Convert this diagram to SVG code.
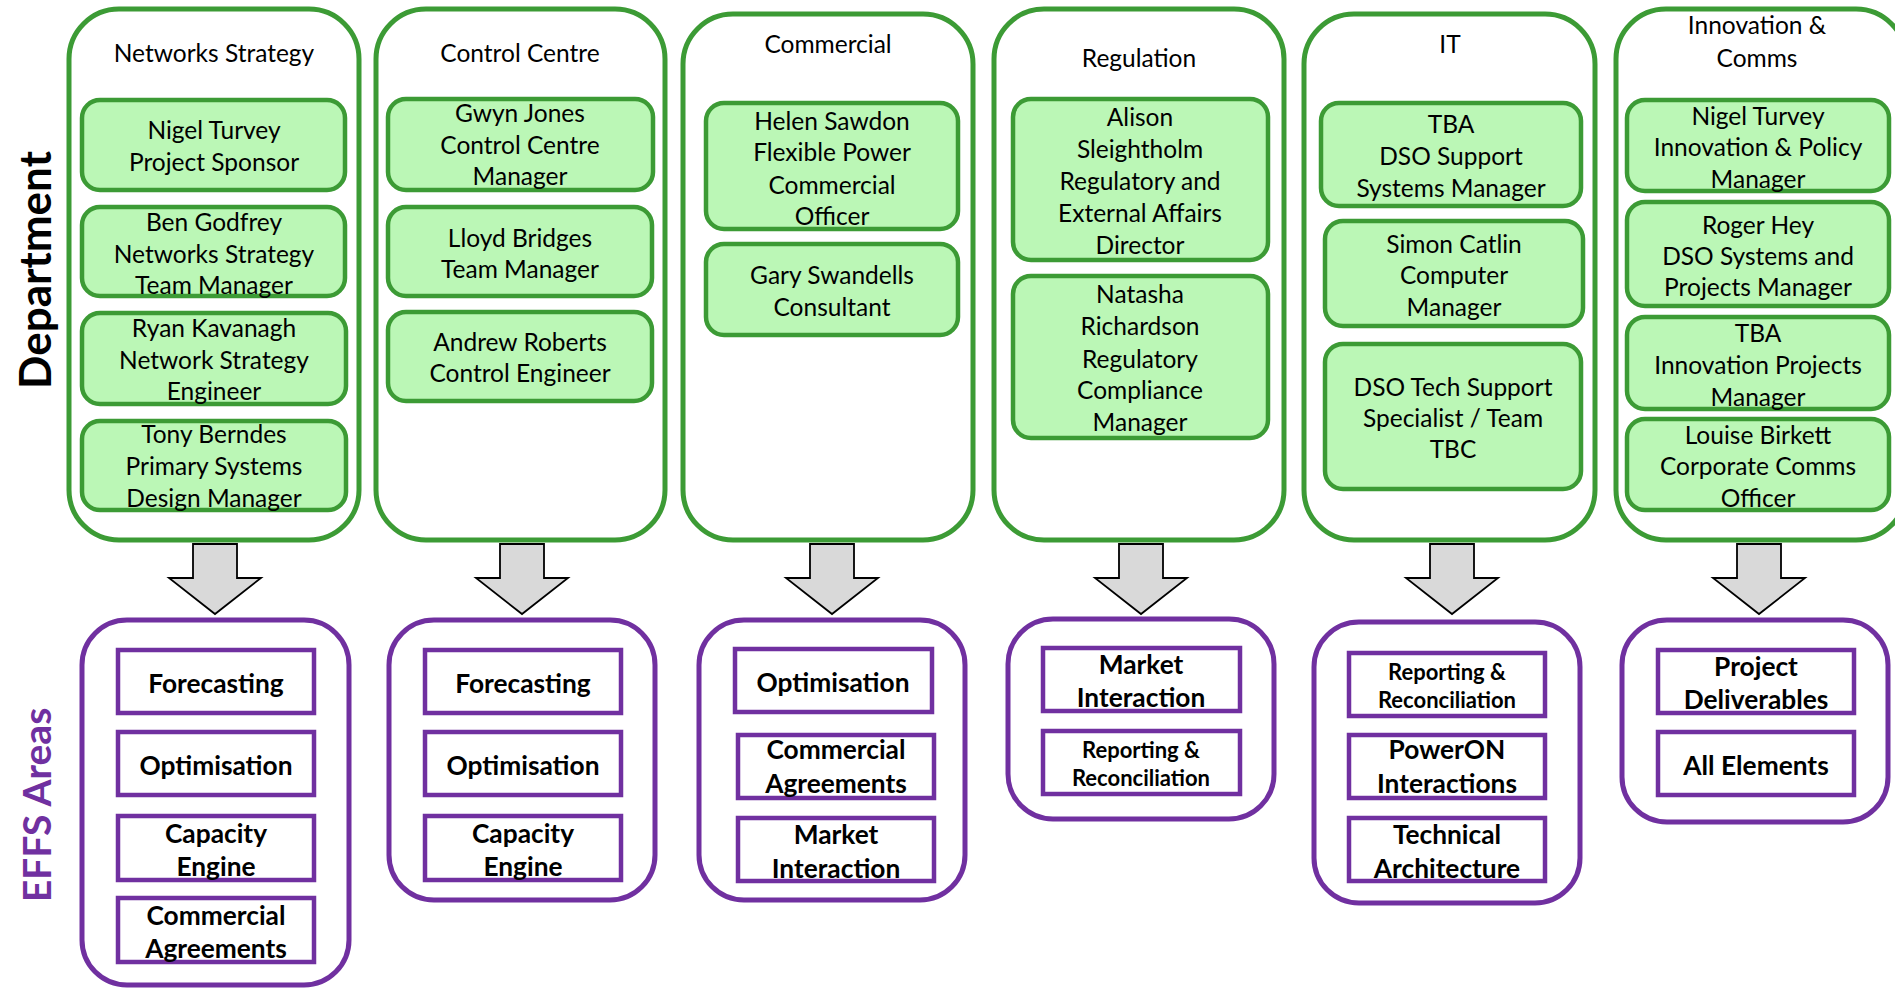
<svg xmlns="http://www.w3.org/2000/svg" width="1895" height="989" viewBox="0 0 1895 989">
<style>
.dept{fill:#fff;stroke:#3C9B35;stroke-width:5}
.person{fill:#BBF7B6;stroke:#3C9B35;stroke-width:4.5}
.area{fill:#fff;stroke:#7030A0;stroke-width:5}
.item{fill:#fff;stroke:#7030A0;stroke-width:4.5}
.arrow{fill:#D9D9D9;stroke:#000;stroke-width:1.8;stroke-linejoin:miter}
text{font-family:Lato,"Open Sans","Liberation Sans",sans-serif;text-anchor:middle;dominant-baseline:central;fill:#000}
.t{font-size:24.5px}
.b{font-size:26.3px;font-weight:bold}
.s{font-size:22px;font-weight:bold}
.side{font-size:44px;font-weight:bold}
</style>
<rect width="1895" height="989" fill="#fff"/>

<g id="label-department"><text class="side" transform="translate(34,270) rotate(-90)">Department</text></g>
<g id="label-effs"><text class="side" style="fill:#7030A0;font-size:39px" transform="translate(36,805) rotate(-90)">EFFS Areas</text></g>

<!-- Networks Strategy -->
<g id="dept-networks-strategy">
<rect class="dept" x="69" y="9" width="290" height="531" rx="50"/>
<text class="t" x="214" y="52">Networks Strategy</text>
<g id="p-nigel-turvey-ns"><rect class="person" x="82" y="100" width="263" height="90" rx="18"/>
<text class="t" x="214" y="129">Nigel Turvey</text><text class="t" x="214" y="161">Project Sponsor</text></g>
<g id="p-ben-godfrey"><rect class="person" x="82" y="207" width="263" height="89" rx="18"/>
<text class="t" x="214" y="221">Ben Godfrey</text><text class="t" x="214" y="253">Networks Strategy</text><text class="t" x="214" y="284">Team Manager</text></g>
<g id="p-ryan-kavanagh"><rect class="person" x="82" y="313" width="264" height="91" rx="18"/>
<text class="t" x="214" y="327">Ryan Kavanagh</text><text class="t" x="214" y="359">Network Strategy</text><text class="t" x="214" y="390">Engineer</text></g>
<g id="p-tony-berndes"><rect class="person" x="82" y="421" width="264" height="89" rx="18"/>
<text class="t" x="214" y="433">Tony Berndes</text><text class="t" x="214" y="465">Primary Systems</text><text class="t" x="214" y="497">Design Manager</text></g>
</g>

<!-- Control Centre -->
<g id="dept-control-centre">
<rect class="dept" x="376" y="9" width="289" height="531" rx="50"/>
<text class="t" x="520" y="52">Control Centre</text>
<g id="p-gwyn-jones"><rect class="person" x="388" y="99" width="265" height="91" rx="18"/>
<text class="t" x="520" y="112">Gwyn Jones</text><text class="t" x="520" y="144">Control Centre</text><text class="t" x="520" y="175">Manager</text></g>
<g id="p-lloyd-bridges"><rect class="person" x="388" y="207" width="264" height="89" rx="18"/>
<text class="t" x="520" y="237">Lloyd Bridges</text><text class="t" x="520" y="268">Team Manager</text></g>
<g id="p-andrew-roberts"><rect class="person" x="388" y="312" width="264" height="89" rx="18"/>
<text class="t" x="520" y="341">Andrew Roberts</text><text class="t" x="520" y="372">Control Engineer</text></g>
</g>

<!-- Commercial -->
<g id="dept-commercial">
<rect class="dept" x="683" y="14" width="290" height="526" rx="50"/>
<text class="t" x="828" y="43">Commercial</text>
<g id="p-helen-sawdon"><rect class="person" x="706" y="103" width="252" height="126" rx="18"/>
<text class="t" x="832" y="120">Helen Sawdon</text><text class="t" x="832" y="151">Flexible Power</text><text class="t" x="832" y="184">Commercial</text><text class="t" x="832" y="215">Officer</text></g>
<g id="p-gary-swandells"><rect class="person" x="706" y="244" width="252" height="91" rx="18"/>
<text class="t" x="832" y="274">Gary Swandells</text><text class="t" x="832" y="306">Consultant</text></g>
</g>

<!-- Regulation -->
<g id="dept-regulation">
<rect class="dept" x="994" y="9" width="290" height="531" rx="50"/>
<text class="t" x="1139" y="57">Regulation</text>
<g id="p-alison-sleightholm"><rect class="person" x="1013" y="99" width="255" height="161" rx="18"/>
<text class="t" x="1140" y="116">Alison</text><text class="t" x="1140" y="148">Sleightholm</text><text class="t" x="1140" y="180">Regulatory and</text><text class="t" x="1140" y="212">External Affairs</text><text class="t" x="1140" y="244">Director</text></g>
<g id="p-natasha-richardson"><rect class="person" x="1013" y="276" width="255" height="162" rx="18"/>
<text class="t" x="1140" y="293">Natasha</text><text class="t" x="1140" y="325">Richardson</text><text class="t" x="1140" y="358">Regulatory</text><text class="t" x="1140" y="389">Compliance</text><text class="t" x="1140" y="421">Manager</text></g>
</g>

<!-- IT -->
<g id="dept-it">
<rect class="dept" x="1304" y="14" width="291" height="526" rx="50"/>
<text class="t" x="1450" y="43">IT</text>
<g id="p-tba-dso-support"><rect class="person" x="1321" y="103" width="260" height="103" rx="18"/>
<text class="t" x="1451" y="123">TBA</text><text class="t" x="1451" y="155">DSO Support</text><text class="t" x="1451" y="187">Systems Manager</text></g>
<g id="p-simon-catlin"><rect class="person" x="1325" y="221" width="258" height="105" rx="18"/>
<text class="t" x="1454" y="243">Simon Catlin</text><text class="t" x="1454" y="274">Computer</text><text class="t" x="1454" y="306">Manager</text></g>
<g id="p-dso-tech-support"><rect class="person" x="1325" y="344" width="256" height="145" rx="18"/>
<text class="t" x="1453" y="386">DSO Tech Support</text><text class="t" x="1453" y="417">Specialist / Team</text><text class="t" x="1453" y="448">TBC</text></g>
</g>

<!-- Innovation & Comms -->
<g id="dept-innovation-comms">
<rect class="dept" x="1616" y="9" width="290" height="531" rx="50"/>
<text class="t" x="1757" y="24">Innovation &amp;</text><text class="t" x="1757" y="57">Comms</text>
<g id="p-nigel-turvey-ic"><rect class="person" x="1627" y="100" width="262" height="91" rx="18"/>
<text class="t" x="1758" y="115">Nigel Turvey</text><text class="t" x="1758" y="146">Innovation &amp; Policy</text><text class="t" x="1758" y="178">Manager</text></g>
<g id="p-roger-hey"><rect class="person" x="1627" y="202" width="262" height="104" rx="18"/>
<text class="t" x="1758" y="224">Roger Hey</text><text class="t" x="1758" y="255">DSO Systems and</text><text class="t" x="1758" y="286">Projects Manager</text></g>
<g id="p-tba-innovation"><rect class="person" x="1627" y="317" width="262" height="92" rx="18"/>
<text class="t" x="1758" y="332">TBA</text><text class="t" x="1758" y="364">Innovation Projects</text><text class="t" x="1758" y="396">Manager</text></g>
<g id="p-louise-birkett"><rect class="person" x="1627" y="419" width="262" height="91" rx="18"/>
<text class="t" x="1758" y="434">Louise Birkett</text><text class="t" x="1758" y="465">Corporate Comms</text><text class="t" x="1758" y="497">Officer</text></g>
</g>

<!-- Connectors -->
<g id="connectors">
<path class="arrow" d="M193,544 H237 V578 H261 L215,614 L169,578 H193 Z"/>
<path class="arrow" d="M500,544 H544 V578 H568 L522,614 L476,578 H500 Z"/>
<path class="arrow" d="M810,544 H854 V578 H878 L832,614 L786,578 H810 Z"/>
<path class="arrow" d="M1119,544 H1163 V578 H1187 L1141,614 L1095,578 H1119 Z"/>
<path class="arrow" d="M1430,544 H1474 V578 H1498 L1452,614 L1406,578 H1430 Z"/>
<path class="arrow" d="M1737,544 H1781 V578 H1805 L1759,614 L1713,578 H1737 Z"/>
</g>

<!-- EFFS areas -->
<g id="effs-networks-strategy">
<rect class="area" x="82" y="620" width="267" height="365" rx="45"/>
<g id="a1-forecasting"><rect class="item" x="118" y="650" width="196" height="63"/><text class="b" x="216" y="683">Forecasting</text></g>
<g id="a1-optimisation"><rect class="item" x="118" y="732" width="196" height="63"/><text class="b" x="216" y="765">Optimisation</text></g>
<g id="a1-capacity"><rect class="item" x="118" y="816" width="196" height="64"/><text class="b" x="216" y="833">Capacity</text><text class="b" x="216" y="866">Engine</text></g>
<g id="a1-commercial"><rect class="item" x="118" y="898" width="196" height="64"/><text class="b" x="216" y="915">Commercial</text><text class="b" x="216" y="948">Agreements</text></g>
</g>

<g id="effs-control-centre">
<rect class="area" x="389" y="620" width="266" height="280" rx="45"/>
<g id="a2-forecasting"><rect class="item" x="425" y="650" width="196" height="63"/><text class="b" x="523" y="683">Forecasting</text></g>
<g id="a2-optimisation"><rect class="item" x="425" y="732" width="196" height="63"/><text class="b" x="523" y="765">Optimisation</text></g>
<g id="a2-capacity"><rect class="item" x="425" y="816" width="196" height="64"/><text class="b" x="523" y="833">Capacity</text><text class="b" x="523" y="866">Engine</text></g>
</g>

<g id="effs-commercial">
<rect class="area" x="699" y="620" width="266" height="280" rx="45"/>
<g id="a3-optimisation"><rect class="item" x="735" y="649" width="197" height="63"/><text class="b" x="833" y="682">Optimisation</text></g>
<g id="a3-commercial"><rect class="item" x="738" y="735" width="196" height="63"/><text class="b" x="836" y="749">Commercial</text><text class="b" x="836" y="783">Agreements</text></g>
<g id="a3-market"><rect class="item" x="738" y="818" width="196" height="63"/><text class="b" x="836" y="834">Market</text><text class="b" x="836" y="868">Interaction</text></g>
</g>

<g id="effs-regulation">
<rect class="area" x="1008" y="619" width="266" height="200" rx="45"/>
<g id="a4-market"><rect class="item" x="1043" y="648" width="197" height="63"/><text class="b" x="1141" y="664">Market</text><text class="b" x="1141" y="697">Interaction</text></g>
<g id="a4-reporting"><rect class="item" x="1043" y="731" width="197" height="63"/><text class="s" x="1141" y="749">Reporting &amp;</text><text class="s" x="1141" y="777">Reconciliation</text></g>
</g>

<g id="effs-it">
<rect class="area" x="1314" y="622" width="266" height="281" rx="45"/>
<g id="a5-reporting"><rect class="item" x="1349" y="653" width="196" height="63"/><text class="s" x="1447" y="671">Reporting &amp;</text><text class="s" x="1447" y="699">Reconciliation</text></g>
<g id="a5-poweron"><rect class="item" x="1349" y="735" width="196" height="63"/><text class="b" x="1447" y="749">PowerON</text><text class="b" x="1447" y="783">Interactions</text></g>
<g id="a5-technical"><rect class="item" x="1349" y="818" width="196" height="63"/><text class="b" x="1447" y="834">Technical</text><text class="b" x="1447" y="868">Architecture</text></g>
</g>

<g id="effs-innovation-comms">
<rect class="area" x="1622" y="620" width="266" height="202" rx="45"/>
<g id="a6-project"><rect class="item" x="1658" y="650" width="196" height="63"/><text class="b" x="1756" y="666">Project</text><text class="b" x="1756" y="699">Deliverables</text></g>
<g id="a6-all"><rect class="item" x="1658" y="732" width="196" height="63"/><text class="b" x="1756" y="765">All Elements</text></g>
</g>
</svg>
